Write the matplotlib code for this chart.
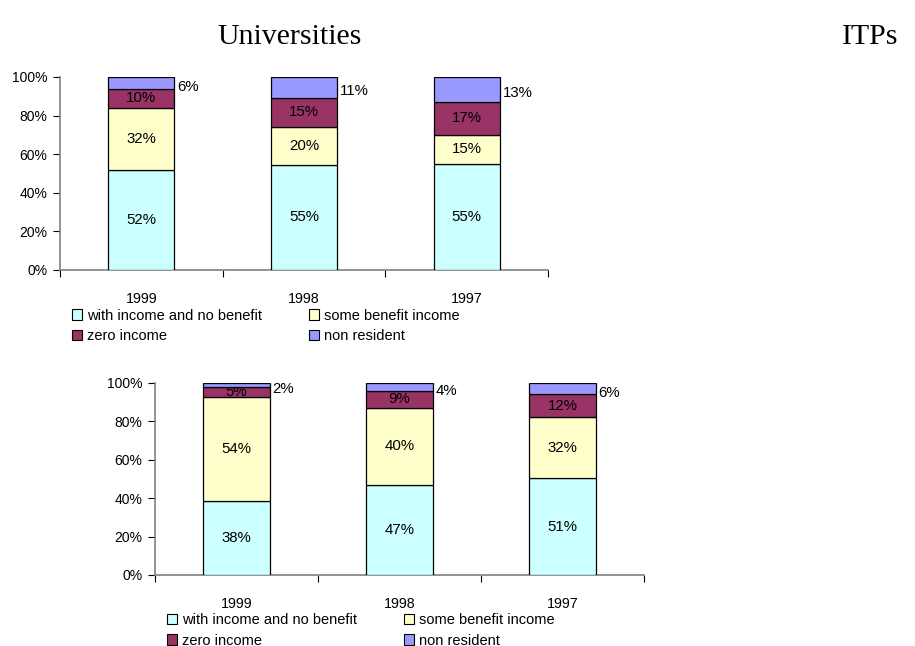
import numpy as np
import matplotlib
matplotlib.use('Agg')
import matplotlib.pyplot as plt
from matplotlib.patches import Patch

plt.rcParams['font.family'] = ['Liberation Sans', 'DejaVu Sans']

# Data (percent of each year's total)
years = ['1999', '1998', '1997']
series = ['with income and no benefit', 'some benefit income', 'zero income', 'non resident']
colors = ['#CCFFFF', '#FFFFCC', '#993366', '#9999FF']

uni_income = [52, 55, 55]
uni_benefit = [32, 20, 15]
uni_zero = [10, 15, 17]
uni_nonres = [6, 11, 13]

itp_income = [38, 47, 51]
itp_benefit = [54, 40, 32]
itp_zero = [5, 9, 12]
itp_nonres = [2, 4, 6]

W, H = 915, 646
fig = plt.figure(figsize=(W / 100, H / 100), dpi=100)


def px_axes(left, top, right, bottom):
    return fig.add_axes([left / W, 1 - bottom / H, (right - left) / W, (bottom - top) / H])


def stacked(ax, parts):
    data = np.array(parts, dtype=float)
    shares = data / data.sum(axis=0) * 100
    x = np.arange(len(years)) + 0.5
    bottom = np.zeros(len(years))
    for i, (vals, col) in enumerate(zip(shares, colors)):
        ax.bar(x, vals, 0.405, bottom=bottom, color=col, edgecolor='black', linewidth=0.9, zorder=3)
        for j in range(len(years)):
            label = f'{data[i, j]:.0f}%'
            cy = bottom[j] + vals[j] / 2
            if i == len(colors) - 1:
                ax.text(x[j] + 0.22, cy - 2, label, ha='left', va='center', fontsize=10.8)
            else:
                ax.text(x[j], cy, label, ha='center', va='center', fontsize=10.8)
        bottom += vals

    ax.set_xlim(0, 3)
    ax.set_ylim(0, 100)
    ax.set_yticks(np.arange(0, 101, 20))
    ax.set_yticklabels([f'{v}%' for v in range(0, 101, 20)], fontsize=10)
    ax.set_xticks([0, 1, 2, 3])
    ax.set_xticklabels([])
    ax.set_xticks(x, minor=True)
    ax.set_xticklabels(years, minor=True, fontsize=10.3)
    ax.tick_params(axis='x', which='minor', length=0, pad=15.5)
    ax.tick_params(axis='x', which='major', length=5, direction='out', color='black')
    ax.tick_params(axis='y', length=5, direction='out', pad=4)
    for s in ['top', 'right']:
        ax.spines[s].set_visible(False)
    for s in ['left', 'bottom']:
        ax.spines[s].set_color('#808080')
        ax.spines[s].set_linewidth(1.2)

    handles = [Patch(facecolor=c, edgecolor='black', linewidth=0.8) for c in colors]
    order = [0, 2, 1, 3]
    ax.legend([handles[k] for k in order], [series[k] for k in order], ncol=2,
              loc='upper left', bbox_to_anchor=(0.024, -0.2), frameon=False, fontsize=10.5,
              handlelength=0.7, handleheight=0.7, handletextpad=0.35,
              columnspacing=3.2, labelspacing=0.43, borderpad=0, borderaxespad=0)


ax1 = px_axes(60, 77, 548, 270)
stacked(ax1, [uni_income, uni_benefit, uni_zero, uni_nonres])

ax2 = px_axes(155, 383, 644, 575)
stacked(ax2, [itp_income, itp_benefit, itp_zero, itp_nonres])

fig.text(290 / W, 1 - 37 / H, 'Universities', family='Liberation Serif', fontsize=21.5, ha='center', va='center')
fig.text(870 / W, 1 - 37 / H, 'ITPs', family='Liberation Serif', fontsize=21.5, ha='center', va='center')

fig.savefig('out.png', dpi=100)
